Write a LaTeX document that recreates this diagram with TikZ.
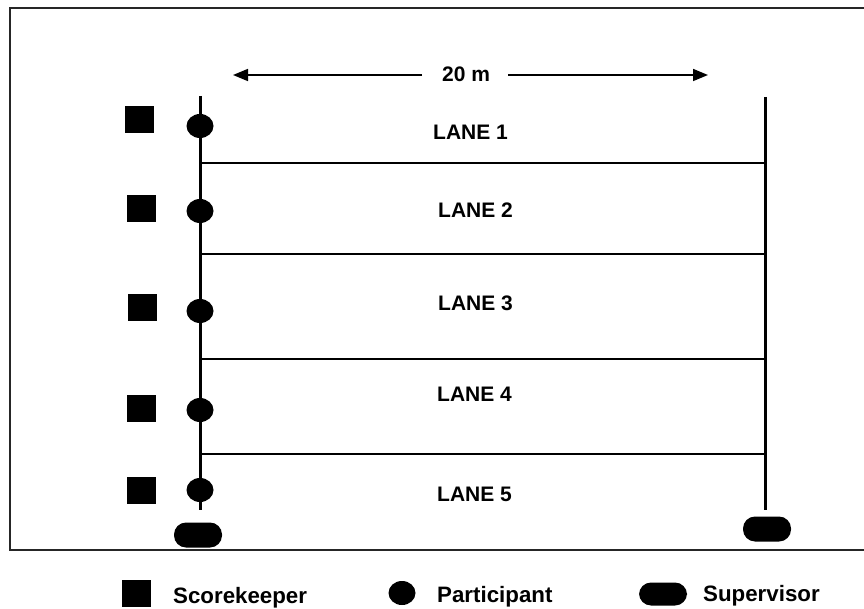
\documentclass[tikz,border=0pt]{standalone}
\usepackage{fontspec}
\setmainfont{Liberation Sans}
\usetikzlibrary{arrows.meta,shapes.geometric}
\begin{document}
\begin{tikzpicture}[x=1pt,y=-1pt,
  lbl/.style={font=\bfseries\fontsize{21}{21}\selectfont, inner sep=0pt, anchor=base west},
  leg/.style={font=\bfseries\fontsize{22.3}{22.3}\selectfont, inner sep=0pt, anchor=base west},
  sk/.style={fill=black, minimum width=29pt, minimum height=27pt, inner sep=0pt},
  pt/.style={ellipse, fill=black, minimum width=27pt, minimum height=24pt, inner sep=0pt},
  sv/.style={fill=black, rounded corners=12pt, minimum width=48pt, minimum height=25pt, inner sep=0pt},
  post/.style={line width=3pt},
  laneline/.style={line width=2pt},
  dim/.style={line width=1.6pt, -{Triangle[length=15pt,width=12pt]}}]
\useasboundingbox (0,0) rectangle (864,609);
% frame
\draw[line width=2pt, black!85] (880,8) -- (10,8) -- (10,550) -- (880,550);
% posts
\coordinate (Ltop) at (200,96);
\coordinate (Lbot) at (200,510);
\coordinate (Rtop) at (765,97);
\coordinate (Rbot) at (765,510);
\draw[post] (Ltop) -- (Lbot);
\draw[post] (Rtop) -- (Rbot);
% lane lines
\foreach \y/\n in {163/a,254/b,359/c,454/d}{
  \coordinate (l\n) at (200,\y);
  \coordinate (r\n) at (765,\y);
  \draw[laneline] (l\n) -- (r\n);
}
% dimension
\node[lbl] (dimlbl) at (442,82) {20 m};
\coordinate (dimL) at (233,75);
\coordinate (dimR) at (708,75);
\coordinate (dimLs) at (422,75);
\coordinate (dimRs) at (508,75);
\draw[dim] (dimLs) -- (dimL);
\draw[dim] (dimRs) -- (dimR);
% lane labels
\node[lbl] (lane1) at (433,140) {LANE 1};
\node[lbl] (lane2) at (438,218) {LANE 2};
\node[lbl] (lane3) at (438,311) {LANE 3};
\node[lbl] (lane4) at (437,401) {LANE 4};
\node[lbl] (lane5) at (437,501) {LANE 5};
% scorekeepers
\node[sk] (s1) at (139,120) {};
\node[sk] (s2) at (141,209) {};
\node[sk] (s3) at (142,308) {};
\node[sk] (s4) at (141,408) {};
\node[sk] (s5) at (141,490) {};
% participants
\node[pt] (p1) at (200,126) {};
\node[pt] (p2) at (200,211) {};
\node[pt] (p3) at (200,311) {};
\node[pt] (p4) at (200,410) {};
\node[pt] (p5) at (200,490) {};
% supervisors
\node[sv] (v1) at (198,535) {};
\node[sv] (v2) at (767,529) {};
% legend
\node[sk] (ls) at (136,593) {};
\node[leg] (lst) at (173,603) {Scorekeeper};
\node[pt] (lp) at (402,593) {};
\node[leg] (lpt) at (437,602) {Participant};
\node[sv, minimum height=23pt] (lv) at (663,594) {};
\node[leg] (lvt) at (703,601) {Supervisor};
\end{tikzpicture}
\end{document}
